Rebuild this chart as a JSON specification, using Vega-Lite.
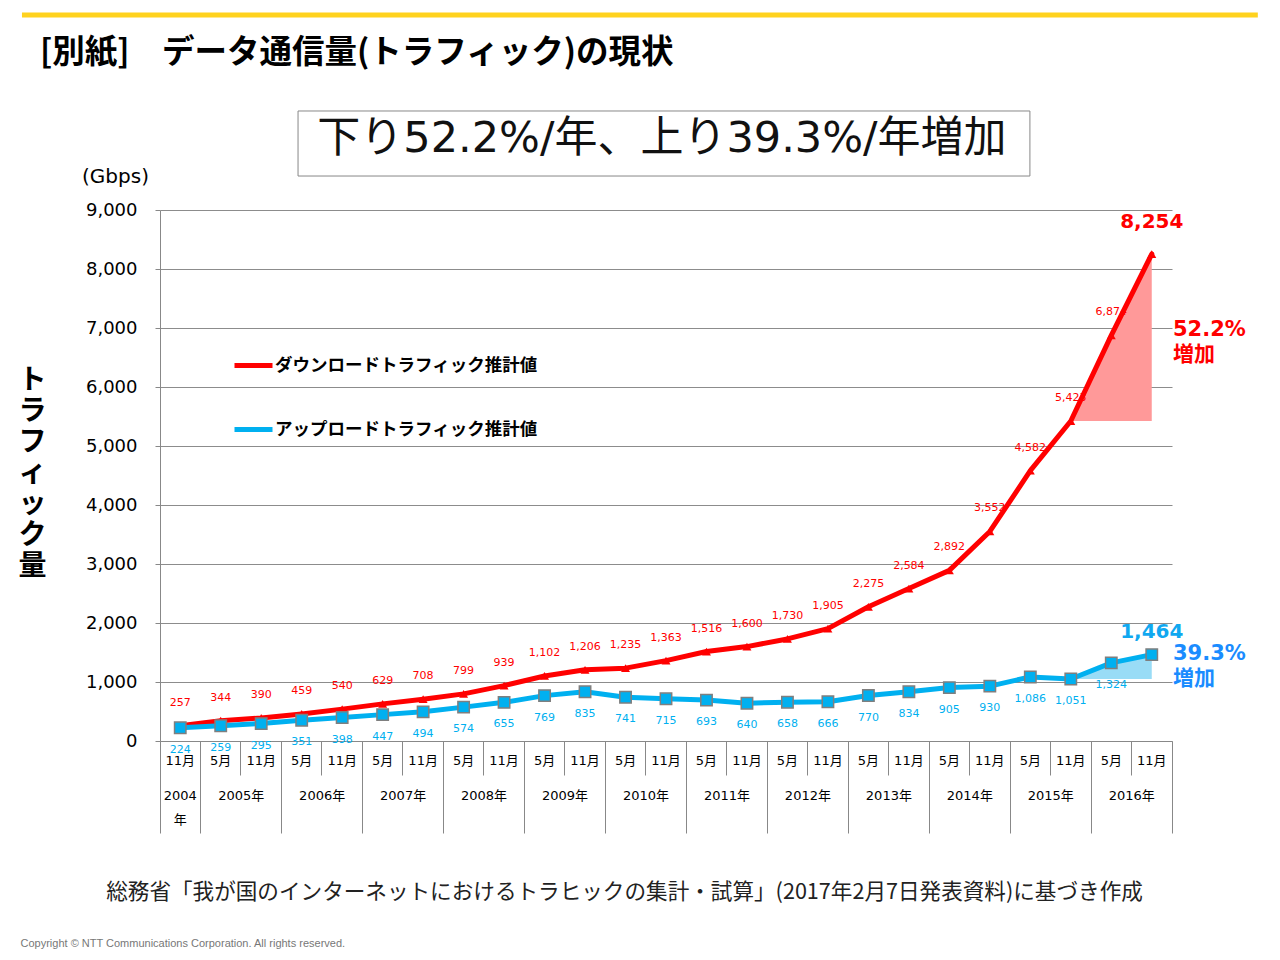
{
  "$schema": "https://vega.github.io/schema/vega-lite/v6.json",
  "width": 1012,
  "height": 531,
  "autosize": {"type": "none"},
  "padding": {"left": 160, "top": 210, "right": 108, "bottom": 219},
  "background": "white",
  "config": {"view": {"stroke": null}, "font": "DejaVu Sans, Noto Sans CJK JP"},
  "title": {"text": "[別紙]　データ通信量(トラフィック)の現状", "anchor": "start", "frame": "group", "dx": -120, "offset": -57, "font": "Noto Sans CJK JP", "fontSize": 32.5, "fontWeight": "bold", "color": "#000000"},
  "datasets": {
    "traffic": [
      {"period": "2004/11", "ダウンロードトラフィック推計値": 257, "アップロードトラフィック推計値": 224},
      {"period": "2005/5", "ダウンロードトラフィック推計値": 344, "アップロードトラフィック推計値": 259},
      {"period": "2005/11", "ダウンロードトラフィック推計値": 390, "アップロードトラフィック推計値": 295},
      {"period": "2006/5", "ダウンロードトラフィック推計値": 459, "アップロードトラフィック推計値": 351},
      {"period": "2006/11", "ダウンロードトラフィック推計値": 540, "アップロードトラフィック推計値": 398},
      {"period": "2007/5", "ダウンロードトラフィック推計値": 629, "アップロードトラフィック推計値": 447},
      {"period": "2007/11", "ダウンロードトラフィック推計値": 708, "アップロードトラフィック推計値": 494},
      {"period": "2008/5", "ダウンロードトラフィック推計値": 799, "アップロードトラフィック推計値": 574},
      {"period": "2008/11", "ダウンロードトラフィック推計値": 939, "アップロードトラフィック推計値": 655},
      {"period": "2009/5", "ダウンロードトラフィック推計値": 1102, "アップロードトラフィック推計値": 769},
      {"period": "2009/11", "ダウンロードトラフィック推計値": 1206, "アップロードトラフィック推計値": 835},
      {"period": "2010/5", "ダウンロードトラフィック推計値": 1235, "アップロードトラフィック推計値": 741},
      {"period": "2010/11", "ダウンロードトラフィック推計値": 1363, "アップロードトラフィック推計値": 715},
      {"period": "2011/5", "ダウンロードトラフィック推計値": 1516, "アップロードトラフィック推計値": 693},
      {"period": "2011/11", "ダウンロードトラフィック推計値": 1600, "アップロードトラフィック推計値": 640},
      {"period": "2012/5", "ダウンロードトラフィック推計値": 1730, "アップロードトラフィック推計値": 658},
      {"period": "2012/11", "ダウンロードトラフィック推計値": 1905, "アップロードトラフィック推計値": 666},
      {"period": "2013/5", "ダウンロードトラフィック推計値": 2275, "アップロードトラフィック推計値": 770},
      {"period": "2013/11", "ダウンロードトラフィック推計値": 2584, "アップロードトラフィック推計値": 834},
      {"period": "2014/5", "ダウンロードトラフィック推計値": 2892, "アップロードトラフィック推計値": 905},
      {"period": "2014/11", "ダウンロードトラフィック推計値": 3552, "アップロードトラフィック推計値": 930},
      {"period": "2015/5", "ダウンロードトラフィック推計値": 4582, "アップロードトラフィック推計値": 1086},
      {"period": "2015/11", "ダウンロードトラフィック推計値": 5423, "アップロードトラフィック推計値": 1051},
      {"period": "2016/5", "ダウンロードトラフィック推計値": 6874, "アップロードトラフィック推計値": 1324},
      {"period": "2016/11", "ダウンロードトラフィック推計値": 8254, "アップロードトラフィック推計値": 1464}
    ],
    "growth": [
      {"period": "2015/11", "series": "down", "value": 5423, "base": 5423},
      {"period": "2016/5", "series": "down", "value": 6874, "base": 5423},
      {"period": "2016/11", "series": "down", "value": 8254, "base": 5423},
      {"period": "2015/11", "series": "up", "value": 1051, "base": 1051},
      {"period": "2016/5", "series": "up", "value": 1324, "base": 1051},
      {"period": "2016/11", "series": "up", "value": 1464, "base": 1051}
    ]
  },
  "resolve": {"scale": {"x": "independent"}, "axis": {"x": "independent", "y": "independent"}},
  "layer": [
    {
      "data": {"values": [{}]},
      "mark": {"type": "rule", "stroke": "#FFD21E", "strokeWidth": 5},
      "encoding": {
        "x": {"datum": -3.41, "type": "quantitative", "scale": {"domain": [0, 25], "nice": false, "zero": false}, "axis": null},
        "x2": {"datum": 27.12},
        "y": {"datum": 12305, "type": "quantitative", "scale": {"domain": [0, 9000], "nice": false}, "axis": null}
      }
    },
    {
      "data": {"values": [{}]},
      "mark": {"type": "rect", "fill": "white", "stroke": "#888888", "strokeWidth": 1},
      "encoding": {
        "x": {"datum": 3.41, "type": "quantitative", "scale": {"domain": [0, 25], "nice": false, "zero": false}, "axis": null},
        "x2": {"datum": 21.49},
        "y": {"datum": 10678, "type": "quantitative", "scale": {"domain": [0, 9000], "nice": false}, "axis": null},
        "y2": {"datum": 9576}
      }
    },
    {
      "data": {"values": [{}]},
      "mark": {"type": "text", "text": "下り52.2%/年、上り39.3%/年増加", "font": "DejaVu Sans, Noto Sans CJK JP", "fontSize": 43, "align": "center", "baseline": "middle", "fill": "#111111"},
      "encoding": {
        "x": {"datum": 12.4, "type": "quantitative", "scale": {"domain": [0, 25], "nice": false, "zero": false}, "axis": null},
        "y": {"datum": 10203, "type": "quantitative", "scale": {"domain": [0, 9000], "nice": false}, "axis": null}
      }
    },
    {
      "data": {"name": "growth"},
      "mark": {"type": "area", "opacity": 1},
      "encoding": {
        "x": {"field": "period", "type": "ordinal", "sort": null, "scale": {"type": "band", "domain": ["2004/11","2005/5","2005/11","2006/5","2006/11","2007/5","2007/11","2008/5","2008/11","2009/5","2009/11","2010/5","2010/11","2011/5","2011/11","2012/5","2012/11","2013/5","2013/11","2014/5","2014/11","2015/5","2015/11","2016/5","2016/11"], "paddingInner": 0, "paddingOuter": 0}, "axis": null},
        "y": {"field": "value", "type": "quantitative", "scale": {"domain": [0, 9000], "nice": false}, "axis": null},
        "y2": {"field": "base"},
        "fill": {"field": "series", "type": "nominal", "scale": {"domain": ["down", "up"], "range": ["#FF9999", "#99DCF6"]}, "legend": null}
      }
    },
    {
      "data": {"name": "traffic"},
      "transform": [{"filter": "datum.period != '2016/11'"}],
      "mark": {"type": "text", "font": "DejaVu Sans", "fontSize": 11, "fill": "#FF0000", "baseline": "middle", "align": "center", "dy": -23},
      "encoding": {
        "x": {"field": "period", "type": "ordinal", "sort": null, "scale": {"type": "band", "domain": ["2004/11","2005/5","2005/11","2006/5","2006/11","2007/5","2007/11","2008/5","2008/11","2009/5","2009/11","2010/5","2010/11","2011/5","2011/11","2012/5","2012/11","2013/5","2013/11","2014/5","2014/11","2015/5","2015/11","2016/5","2016/11"], "paddingInner": 0, "paddingOuter": 0},
          "axis": {"orient": "bottom", "bandPosition": 0, "domain": false, "grid": false, "ticks": true, "tickColor": "#888888", "tickWidth": 1, "tickSize": 92,
            "tickOpacity": {"condition": {"test": "datum.value == '2004/11'", "value": 1}, "value": 0},
            "labelExpr": "datum.value == '2004/11' ? ['2004', '年'] : (substring(datum.value, 5) == '11' ? substring(datum.value, 0, 4) + '年' : '')",
            "labelOffset": {"condition": {"test": "datum.value == '2004/11'", "value": 0}, "value": -20},
            "labelPadding": -44, "labelAngle": 0, "labelFont": "DejaVu Sans, Noto Sans CJK JP", "labelFontSize": 13, "labelLineHeight": 24, "labelColor": "#000000", "labelBaseline": "top", "labelOverlap": false, "title": null}},
        "y": {"field": "ダウンロードトラフィック推計値", "type": "quantitative", "scale": {"domain": [0, 9000], "nice": false},
          "axis": {"orient": "left", "labels": false, "ticks": false, "domain": false, "grid": false,
            "title": ["ト", "ラ", "フ", "ィ", "ッ", "ク", "量"], "titleAngle": 0, "titleX": -128, "titleY": 156, "titleAlign": "center", "titleBaseline": "top",
            "titleFont": "Noto Sans CJK JP", "titleFontSize": 28, "titleFontWeight": "bold", "titleLineHeight": 31, "titleColor": "#000000"}},
        "text": {"field": "ダウンロードトラフィック推計値", "type": "quantitative", "format": ","}
      }
    },
    {
      "data": {"name": "traffic"},
      "transform": [{"filter": "datum.period != '2016/11'"}],
      "mark": {"type": "text", "font": "DejaVu Sans", "fontSize": 11, "fill": "#00B0F0", "baseline": "middle", "align": "center", "dy": 22},
      "encoding": {
        "x": {"field": "period", "type": "ordinal", "sort": null, "scale": {"type": "band", "domain": ["2004/11","2005/5","2005/11","2006/5","2006/11","2007/5","2007/11","2008/5","2008/11","2009/5","2009/11","2010/5","2010/11","2011/5","2011/11","2012/5","2012/11","2013/5","2013/11","2014/5","2014/11","2015/5","2015/11","2016/5","2016/11"], "paddingInner": 0, "paddingOuter": 0}, "axis": null},
        "y": {"field": "アップロードトラフィック推計値", "type": "quantitative", "scale": {"domain": [0, 9000], "nice": false}, "axis": null},
        "text": {"field": "アップロードトラフィック推計値", "type": "quantitative", "format": ","}
      }
    },
    {
      "data": {"name": "traffic"},
      "transform": [{"fold": ["ダウンロードトラフィック推計値", "アップロードトラフィック推計値"], "as": ["series", "value"]}],
      "mark": {"type": "line", "strokeWidth": 5, "strokeJoin": "round", "strokeCap": "round"},
      "encoding": {
        "x": {"field": "period", "type": "ordinal", "sort": null, "scale": {"type": "band", "domain": ["2004/11","2005/5","2005/11","2006/5","2006/11","2007/5","2007/11","2008/5","2008/11","2009/5","2009/11","2010/5","2010/11","2011/5","2011/11","2012/5","2012/11","2013/5","2013/11","2014/5","2014/11","2015/5","2015/11","2016/5","2016/11"], "paddingInner": 0, "paddingOuter": 0},
          "axis": {"orient": "bottom", "ticks": false, "domain": true, "domainColor": "#888888", "domainWidth": 1, "grid": false,
            "labelExpr": "substring(datum.value, 5) + '月'", "labelAngle": 0, "labelPadding": 13, "labelFont": "DejaVu Sans, Noto Sans CJK JP", "labelFontSize": 13, "labelColor": "#000000", "labelOverlap": false,
            "title": "総務省「我が国のインターネットにおけるトラヒックの集計・試算」(2017年2月7日発表資料)に基づき作成",
            "titleX": 464, "titleY": 151, "titleAlign": "center", "titleBaseline": "middle", "titleFont": "Noto Sans CJK JP", "titleFontSize": 21.6, "titleFontWeight": "normal", "titleColor": "#222222"}},
        "y": {"field": "value", "type": "quantitative", "scale": {"domain": [0, 9000], "nice": false},
          "axis": {"orient": "left", "values": [0, 1000, 2000, 3000, 4000, 5000, 6000, 7000, 8000, 9000], "format": ",.0f",
            "labelFont": "DejaVu Sans", "labelFontSize": 18, "labelColor": "#000000", "labelPadding": 18,
            "ticks": true, "tickSize": 5, "tickColor": "#888888", "domain": true, "domainColor": "#888888",
            "grid": true, "gridColor": "#8C8C8C", "gridWidth": 1,
            "title": "(Gbps)", "titleAngle": 0, "titleX": -45, "titleY": -34, "titleAlign": "center", "titleBaseline": "middle",
            "titleFont": "DejaVu Sans", "titleFontSize": 20, "titleFontWeight": "normal", "titleColor": "#000000"}},
        "color": {"field": "series", "type": "nominal", "sort": null,
          "scale": {"domain": ["ダウンロードトラフィック推計値", "アップロードトラフィック推計値"], "range": ["#FF0000", "#00B0F0"]},
          "legend": {"orient": "none", "legendX": 72, "legendY": 134, "title": null, "padding": 0, "symbolType": "stroke", "symbolSize": 1444, "symbolStrokeWidth": 5,
            "labelFont": "Noto Sans CJK JP", "labelFontSize": 17.5, "labelFontWeight": "bold", "labelColor": "#000000", "labelLimit": 0, "labelOffset": 0, "rowPadding": 32}}
      }
    },
    {
      "data": {"name": "traffic"},
      "mark": {"type": "point", "shape": "triangle-up", "filled": true, "fill": "#FF0000", "size": 80, "opacity": 1},
      "encoding": {
        "x": {"field": "period", "type": "ordinal", "sort": null, "scale": {"type": "band", "domain": ["2004/11","2005/5","2005/11","2006/5","2006/11","2007/5","2007/11","2008/5","2008/11","2009/5","2009/11","2010/5","2010/11","2011/5","2011/11","2012/5","2012/11","2013/5","2013/11","2014/5","2014/11","2015/5","2015/11","2016/5","2016/11"], "paddingInner": 0, "paddingOuter": 0},
          "axis": {"orient": "bottom", "bandPosition": 1, "labels": false, "domain": false, "grid": false, "ticks": true, "tickColor": "#888888", "tickWidth": 1,
            "tickSize": {"condition": {"test": "substring(datum.value, 5) == '11'", "value": 92}, "value": 34},
            "title": "Copyright © NTT Communications Corporation. All rights reserved.", "titleX": -140, "titleY": 202, "titleAlign": "left", "titleBaseline": "middle",
            "titleFont": "Liberation Sans", "titleFontSize": 11, "titleFontWeight": "normal", "titleColor": "#777777"}},
        "y": {"field": "ダウンロードトラフィック推計値", "type": "quantitative", "scale": {"domain": [0, 9000], "nice": false}, "axis": null}
      }
    },
    {
      "data": {"name": "traffic"},
      "mark": {"type": "point", "shape": "square", "filled": true, "fill": "#00B0F0", "stroke": "#7F7F7F", "strokeWidth": 1.5, "size": 130, "opacity": 1},
      "encoding": {
        "x": {"field": "period", "type": "ordinal", "sort": null, "scale": {"type": "band", "domain": ["2004/11","2005/5","2005/11","2006/5","2006/11","2007/5","2007/11","2008/5","2008/11","2009/5","2009/11","2010/5","2010/11","2011/5","2011/11","2012/5","2012/11","2013/5","2013/11","2014/5","2014/11","2015/5","2015/11","2016/5","2016/11"], "paddingInner": 0, "paddingOuter": 0}, "axis": null},
        "y": {"field": "アップロードトラフィック推計値", "type": "quantitative", "scale": {"domain": [0, 9000], "nice": false}, "axis": null}
      }
    },
    {
      "data": {"name": "traffic"},
      "transform": [{"filter": "datum.period == '2016/11'"}],
      "mark": {"type": "text", "font": "DejaVu Sans", "fontSize": 20, "fontWeight": "bold", "fill": "#FF0000", "baseline": "middle", "align": "center", "dy": -32},
      "encoding": {
        "x": {"field": "period", "type": "ordinal", "sort": null, "scale": {"type": "band", "domain": ["2004/11","2005/5","2005/11","2006/5","2006/11","2007/5","2007/11","2008/5","2008/11","2009/5","2009/11","2010/5","2010/11","2011/5","2011/11","2012/5","2012/11","2013/5","2013/11","2014/5","2014/11","2015/5","2015/11","2016/5","2016/11"], "paddingInner": 0, "paddingOuter": 0}, "axis": null},
        "y": {"field": "ダウンロードトラフィック推計値", "type": "quantitative", "scale": {"domain": [0, 9000], "nice": false}, "axis": null},
        "text": {"field": "ダウンロードトラフィック推計値", "type": "quantitative", "format": ","}
      }
    },
    {
      "data": {"name": "traffic"},
      "transform": [{"filter": "datum.period == '2016/11'"}],
      "mark": {"type": "text", "font": "DejaVu Sans", "fontSize": 20, "fontWeight": "bold", "fill": "#10A8F0", "baseline": "middle", "align": "center", "dy": -23},
      "encoding": {
        "x": {"field": "period", "type": "ordinal", "sort": null, "scale": {"type": "band", "domain": ["2004/11","2005/5","2005/11","2006/5","2006/11","2007/5","2007/11","2008/5","2008/11","2009/5","2009/11","2010/5","2010/11","2011/5","2011/11","2012/5","2012/11","2013/5","2013/11","2014/5","2014/11","2015/5","2015/11","2016/5","2016/11"], "paddingInner": 0, "paddingOuter": 0}, "axis": null},
        "y": {"field": "アップロードトラフィック推計値", "type": "quantitative", "scale": {"domain": [0, 9000], "nice": false}, "axis": null},
        "text": {"field": "アップロードトラフィック推計値", "type": "quantitative", "format": ","}
      }
    },
    {
      "data": {"values": [{}]},
      "mark": {"type": "text", "text": ["52.2%", "増加"], "font": "DejaVu Sans, Noto Sans CJK JP", "fontSize": 21, "fontWeight": "bold", "fill": "#FF0000", "align": "left", "baseline": "middle", "lineHeight": 25, "dx": 1},
      "encoding": {
        "x": {"datum": 25, "type": "quantitative", "scale": {"domain": [0, 25], "nice": false, "zero": false}, "axis": null},
        "y": {"datum": 6960, "type": "quantitative", "scale": {"domain": [0, 9000], "nice": false}, "axis": null}
      }
    },
    {
      "data": {"values": [{}]},
      "mark": {"type": "text", "text": ["39.3%", "増加"], "font": "DejaVu Sans, Noto Sans CJK JP", "fontSize": 21, "fontWeight": "bold", "fill": "#1A8CFF", "align": "left", "baseline": "middle", "lineHeight": 25, "dx": 1},
      "encoding": {
        "x": {"datum": 25, "type": "quantitative", "scale": {"domain": [0, 25], "nice": false, "zero": false}, "axis": null},
        "y": {"datum": 1467, "type": "quantitative", "scale": {"domain": [0, 9000], "nice": false}, "axis": null}
      }
    }
  ]
}
